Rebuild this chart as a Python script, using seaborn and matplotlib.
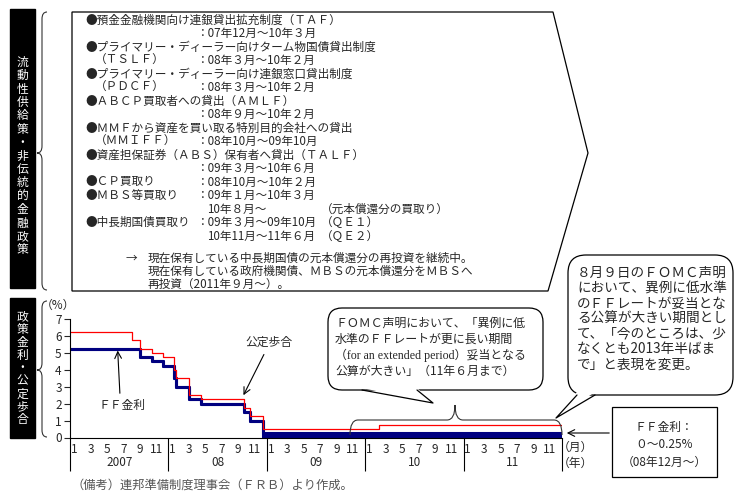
import numpy as np
import pandas as pd
import seaborn as sns
import matplotlib.pyplot as plt
from matplotlib.path import Path
from matplotlib.patches import PathPatch, Polygon, FancyBboxPatch, Rectangle

# FF rate target (upper / lower bound) and discount rate, change dates
ff_dates = ['2007-01-01', '2007-09-18', '2007-10-31', '2007-12-11', '2008-01-22', '2008-01-30',
            '2008-03-18', '2008-04-30', '2008-10-08', '2008-10-29', '2008-12-16', '2011-12-31']
ff_upper = [5.25, 4.75, 4.50, 4.25, 3.50, 3.00, 2.25, 2.00, 1.50, 1.00, 0.25, 0.25]
ff_lower = [5.25, 4.75, 4.50, 4.25, 3.50, 3.00, 2.25, 2.00, 1.50, 1.00, 0.00, 0.00]

disc_dates = ['2007-01-01', '2007-08-17', '2007-09-18', '2007-10-31', '2007-12-11', '2008-01-22',
              '2008-01-30', '2008-03-16', '2008-03-18', '2008-04-30', '2008-10-08', '2008-10-29',
              '2008-12-16', '2010-02-19', '2011-12-31']
disc_rates = [6.25, 5.75, 5.25, 5.00, 4.75, 4.00, 3.50, 3.25, 2.50, 2.25, 1.75, 1.25, 0.50, 0.75, 0.75]

month_labels = ['1', '3', '5', '7', '9', '11']
year_labels = ['2007', '08', '09', '10', '11']

policy_lines = [
    ('●預金金融機関向け連銀貸出拡充制度（ＴＡＦ）', '', ''),
    ('', '：07年12月～10年３月', ''),
    ('●プライマリー・ディーラー向けターム物国債貸出制度', '', ''),
    ('（ＴＳＬＦ）', '：08年３月～10年２月', ''),
    ('●プライマリー・ディーラー向け連銀窓口貸出制度', '', ''),
    ('（ＰＤＣＦ）', '：08年３月～10年２月', ''),
    ('●ＡＢＣＰ買取者への貸出（ＡＭＬＦ）', '', ''),
    ('', '：08年９月～10年２月', ''),
    ('●ＭＭＦから資産を買い取る特別目的会社への貸出', '', ''),
    ('（ＭＭＩＦＦ）', '：08年10月～09年10月', ''),
    ('●資産担保証券（ＡＢＳ）保有者へ貸出（ＴＡＬＦ）', '', ''),
    ('', '：09年３月～10年６月', ''),
    ('●ＣＰ買取り', '：08年10月～10年２月', ''),
    ('●ＭＢＳ等買取り', '：09年１月～10年３月', ''),
    ('', '10年８月～', '（元本償還分の買取り）'),
    ('●中長期国債買取り', '：09年３月～09年10月', '（ＱＥ１）'),
    ('', '10年11月～11年６月', '（ＱＥ２）'),
]
reinvest_lines = ['現在保有している中長期国債の元本償還分の再投資を継続中。',
                  '現在保有している政府機関債、ＭＢＳの元本償還分をＭＢＳへ',
                  '再投資（2011年９月～）。']
fomc_lines = ['ＦＯＭＣ声明において、「異例に低',
              '水準のＦＦレートが更に長い期間',
              '（for an extended period）妥当となる',
              '公算が大きい」（11年６月まで）']
aug_lines = ['８月９日のＦＯＭＣ声明', 'において、異例に低水準', 'のＦＦレートが妥当とな',
             'る公算が大きい期間とし', 'て、「今のところは、少', 'なくとも2013年半ばま',
             'で」と表現を変更。']
ff_box_lines = ['ＦＦ金利：', '０～0.25%', '（08年12月～）']


def to_month(dates):
    d = pd.to_datetime(pd.Series(dates))
    return ((d.dt.year - 2007) * 12 + d.dt.month - 1 + (d.dt.day - 1) / d.dt.days_in_month).to_numpy()


def brace(ax, a0, a1, amid, b_tip, b_end, r=7, vertical=True, lw=0.8, color='#333333'):
    bm = (b_tip + b_end) / 2
    pts = [(b_end, a0), (bm, a0), (bm, a0 + r), (bm, amid - r), (bm, amid), (b_tip, amid),
           (bm, amid), (bm, amid + r), (bm, a1 - r), (bm, a1), (b_end, a1)]
    if not vertical:
        pts = [(p[1], p[0]) for p in pts]
    codes = [Path.MOVETO, Path.CURVE3, Path.CURVE3, Path.LINETO, Path.CURVE3, Path.CURVE3,
             Path.CURVE3, Path.CURVE3, Path.LINETO, Path.CURVE3, Path.CURVE3]
    ax.add_patch(PathPatch(Path(pts, codes), fill=False, lw=lw, color=color))


sns.set_theme(style='white')
plt.rcParams['font.family'] = ['Noto Sans CJK JP', 'DejaVu Sans']

fig = plt.figure(figsize=(7.35, 5), dpi=100)
ax = fig.add_axes([70 / 735, (500 - 437.5) / 500, 492 / 735, 118.5 / 500])

navy = '#000080'
x_ff = to_month(ff_dates)
x_disc = to_month(disc_dates)
ax.fill_between(x_ff, ff_lower, ff_upper, step='post', color=navy, lw=0)
sns.lineplot(x=x_ff, y=ff_upper, drawstyle='steps-post', color=navy, lw=2.2, ax=ax)
sns.lineplot(x=x_ff, y=ff_lower, drawstyle='steps-post', color=navy, lw=2.2, ax=ax)
sns.lineplot(x=x_disc, y=disc_rates, drawstyle='steps-post', color='red', lw=0.9, ax=ax)

ax.set_xlim(0, 60)
ax.set_ylim(0, 7)
for s in ['top', 'right']:
    ax.spines[s].set_visible(False)
for s in ['left', 'bottom']:
    ax.spines[s].set_color('black')
    ax.spines[s].set_linewidth(0.8)
ax.set_yticks(range(8))
ax.tick_params(axis='y', length=4, width=0.8, labelsize=8.5, pad=2, left=True)
month_pos = [y * 12 + int(m) - 0.5 for y in range(5) for m in month_labels]
ax.set_xticks(month_pos, month_labels * 5)
ax.tick_params(axis='x', which='major', length=0, labelsize=8.5, pad=4)
ax.set_xticks(range(0, 61, 12), minor=True)
ax.tick_params(axis='x', which='minor', length=24, width=0.8, bottom=True, color='black')
for i, lab in enumerate(year_labels):
    ax.text(i * 12 + 6, -0.21, lab, transform=ax.get_xaxis_transform(), ha='center', va='center', fontsize=8.5)

ax.annotate('', xy=(21.0, 2.35), xytext=(23.8, 5.05),
            arrowprops=dict(arrowstyle='->', lw=0.8, color='black'))
ax.text(24.3, 5.65, '公定歩合', ha='center', va='center', fontsize=8.5)
ax.annotate('', xy=(5.8, 5.3), xytext=(6.1, 2.45),
            arrowprops=dict(arrowstyle='->', lw=0.8, color='black'))
ax.text(6.4, 1.9, 'ＦＦ金利', ha='center', va='center', fontsize=8.5)

# overlay in pixel coordinates
ov = fig.add_axes([0, 0, 1, 1])
ov.set_xlim(0, 735)
ov.set_ylim(500, 0)
ov.axis('off')
ov.patch.set_alpha(0)

# side labels
ov.add_patch(Rectangle((10, 9), 25, 279, color='black'))
ov.add_patch(Rectangle((10, 298), 25, 140, color='black'))
side1 = '流動性供給策・非伝統的金融政策'
for i, ch in enumerate(side1):
    ov.text(22.5, 156 + (i - 7) * 13.4, ch, color='white', ha='center', va='center', fontsize=8.5)
side2 = '政策金利・公定歩合'
for i, ch in enumerate(side2):
    ov.text(22.5, 368 + (i - 4) * 12.9, ch, color='white', ha='center', va='center', fontsize=8.5)
brace(ov, 12, 290, 153, 37, 47)
brace(ov, 301, 437, 370, 37, 47)

# pentagon box
ov.add_patch(Polygon([(72, 12), (553, 12), (588, 153), (548, 291), (72, 291)],
                     closed=True, fc='white', ec='black', lw=0.9))
y0, dy = 20, 13.5
fs = 8.4
for i, (c1, c2, c3) in enumerate(policy_lines):
    y = y0 + i * dy
    if c1:
        ov.text(85 if c1.startswith('●') else 95, y, c1, ha='left', va='center', fontsize=fs)
    if c2:
        ov.text(196 if c2.startswith('：') else 207, y, c2, ha='left', va='center', fontsize=fs)
    if c3:
        ov.text(321, y, c3, ha='left', va='center', fontsize=fs)
ov.text(126, 258, '→', ha='left', va='center', fontsize=fs)
for i, line in enumerate(reinvest_lines):
    ov.text(148, 258 + i * 13.2, line, ha='left', va='center', fontsize=fs)

# FOMC callout
ov.add_patch(FancyBboxPatch((328, 308), 215, 82, boxstyle='round,pad=0,rounding_size=14',
                            fc='white', ec='black', lw=0.9))
ov.add_patch(Polygon([(362, 388), (433, 403), (417, 388)], closed=True, fc='white', ec='none'))
ov.plot([362, 433, 417], [390, 403, 390], color='black', lw=0.9)
for i, line in enumerate(fomc_lines):
    fam = ['Liberation Serif', 'Noto Sans CJK JP'] if 'for an' in line else None
    ov.text(335, 323 + i * 16, line, ha='left', va='center', fontsize=8.6, family=fam)
brace(ov, 350, 562, 455, 405, 435, r=8, vertical=False)

# Aug 9 callout
ov.add_patch(FancyBboxPatch((568, 255), 165, 140, boxstyle='round,pad=0,rounding_size=18',
                            fc='white', ec='black', lw=0.9))
ov.add_patch(Polygon([(577, 392), (556, 418), (595, 392)], closed=True, fc='white', ec='none'))
ov.plot([577, 556, 595], [395, 418, 395], color='black', lw=0.9)
for i, line in enumerate(aug_lines):
    ov.text(577, 273 + i * 15.2, line, ha='left', va='center', fontsize=9.8)

# FF box
ov.add_patch(Rectangle((612, 407), 105, 70, fc='white', ec='black', lw=0.9))
for i, line in enumerate(ff_box_lines):
    ov.text(664, 427 + i * 17.5, line, ha='center', va='center', fontsize=8.5)
ov.annotate('', xy=(564, 433), xytext=(612, 433),
            arrowprops=dict(arrowstyle='->', lw=0.8, color='black'))

ov.text(558, 447, '（月）', ha='left', va='center', fontsize=8.5)
ov.text(558, 463, '（年）', ha='left', va='center', fontsize=8.5)
ov.text(58, 305, '（%）', ha='center', va='center', fontsize=8.5)
ov.text(72, 485, '（備考）連邦準備制度理事会（ＦＲＢ）より作成。', ha='left', va='center',
        fontsize=8.8, color='#555555')

fig.savefig('out.png', dpi=100)
